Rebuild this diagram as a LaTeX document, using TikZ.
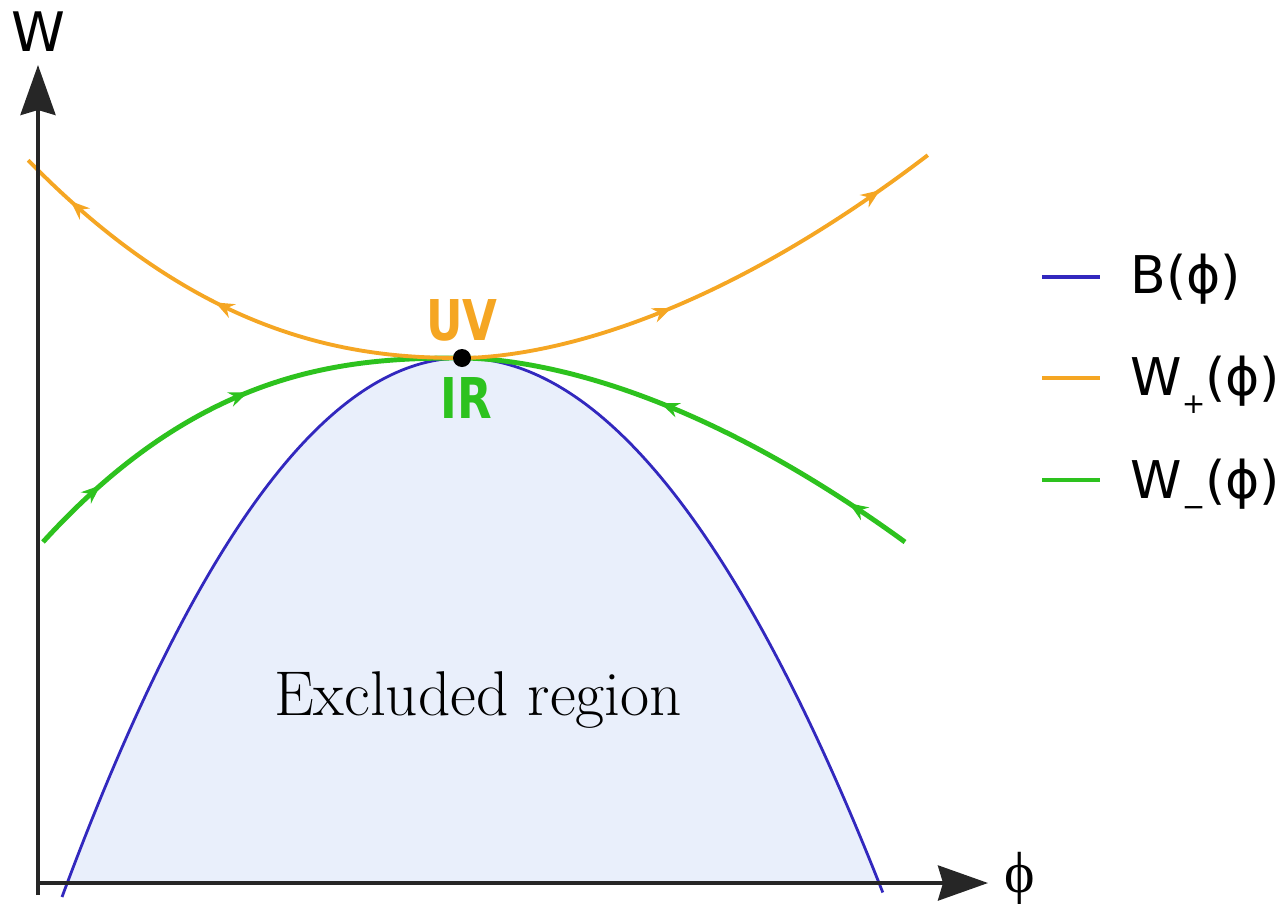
\RequirePackage{fix-cm}
\documentclass[tikz,border=0pt]{standalone}
\usepackage{fontspec}
\usepackage{graphicx}
\usepackage{tikz}
\usetikzlibrary{arrows.meta,decorations.markings}

\newfontfamily\legendfont{DejaVu Sans}
\newfontfamily\axisfont{Liberation Serif}
\definecolor{uvorange}{HTML}{F5A623}
\definecolor{irgreen}{HTML}{2DC21E}
\definecolor{bblue}{HTML}{3228BE}
\definecolor{exfill}{HTML}{E9EFFB}
\newcommand\lowsub[1]{\raisebox{-10.5pt}{\fontsize{16}{16}\selectfont #1}}

\begin{document}
\begin{tikzpicture}[
    x=0.02cm, y=-0.02cm,
    flowtip/.tip={Stealth[length=3.8mm,width=3mm]},
    axis/.style={draw=black!85, line width=2.2pt,
                 -{Stealth[length=10mm,width=7mm,inset=1mm]}},
    bound/.style={draw=bblue, line width=1.6pt},
    wplus/.style={draw=uvorange, line width=2.2pt},
    wminus/.style={draw=irgreen, line width=2.8pt},
    twoflows/.style 2 args={postaction={decorate}, decoration={markings,
        mark=at position #1 with {\arrow{flowtip}},
        mark=at position #2 with {\arrow{flowtip}}}},
    fplabel/.style={font=\legendfont\bfseries\fontsize{32}{36}\selectfont, inner sep=0pt},
    legendtext/.style={anchor=base west, inner sep=0pt,
                       font=\legendfont\fontsize{29.6}{34}\selectfont},
    samples=90
]
\useasboundingbox (0,0) rectangle (1287,903);

\coordinate (origin) at (38,883);
\coordinate (ybot) at (38,895);
\coordinate (ytip) at (38,65);
\coordinate (xtip) at (988,883);

% excluded region below B(phi)
\begin{scope}
    \clip (38,0) rectangle (1287,883);
    \fill[exfill] plot[domain=0:1] ({62+400*\x},{358+539*(1-\x)^2})
        -- plot[domain=0:1] ({462+421*\x},{358+535*\x^2}) -- cycle;
\end{scope}
\draw[bound] plot[domain=0:1] ({62+400*\x},{358+539*(1-\x)^2})
    -- plot[domain=0:1] ({462+421*\x},{358+535*\x^2});

% W_- flows into the fixed point
\draw[wminus, twoflows={0.17}{0.54}] plot[domain=0:1]
    ({43+419*\x},{358+184*(1-\x)*(1-\x)*sqrt(abs(1-\x))});
\draw[wminus, twoflows={0.14}{0.58}] plot[domain=0:1]
    ({905-443*\x},{358+184*(1-\x)*sqrt(abs(1-\x))*sqrt(sqrt(abs(1-\x)))});

% W_+ flows out of it
\draw[wplus, twoflows={0.52}{0.88}] plot[domain=0:1]
    ({462-434*\x},{358-198*\x*\x*sqrt(sqrt(abs(\x)))});
\draw[wplus, twoflows={0.42}{0.885}] plot[domain=0:1]
    ({462+466*\x},{358-203*\x*sqrt(abs(\x))*sqrt(sqrt(abs(\x)))});

\draw[axis] (ybot) -- (ytip);
\draw[axis] (origin) -- (xtip);
\node[font=\legendfont\fontsize{31}{36}\selectfont] (wlab) at (38,32) {W};
\node[font=\axisfont\fontsize{33}{36}\selectfont] (philab) at (1020,879) {ϕ};

\node[circle, fill=black, inner sep=0pt, minimum size=3.6mm] (fp) at (462,358) {};
\node[fplabel, text=uvorange] (uv) at (462,320) {\scalebox{0.8}[1]{UV}};
\node[fplabel, text=irgreen] (ir) at (466,398) {\scalebox{0.8}[1]{IR}};

\node[font=\fontsize{36}{42}\selectfont, anchor=base] (excl) at (478,715) {Excluded region};

% legend
\draw[bound, line width=2.4pt] (1042,277) -- (1100,277);
\draw[wplus, line width=2.4pt] (1042,378) -- (1100,378);
\draw[wminus, line width=2.4pt] (1042,480) -- (1100,480);
\node[legendtext] (lgb) at (1130,293) {B(ϕ)};
\node[legendtext] (lgwp) at (1130,395) {W\lowsub{+}(ϕ)};
\node[legendtext] (lgwm) at (1130,498) {W\lowsub{−}(ϕ)};
\end{tikzpicture}
\end{document}
